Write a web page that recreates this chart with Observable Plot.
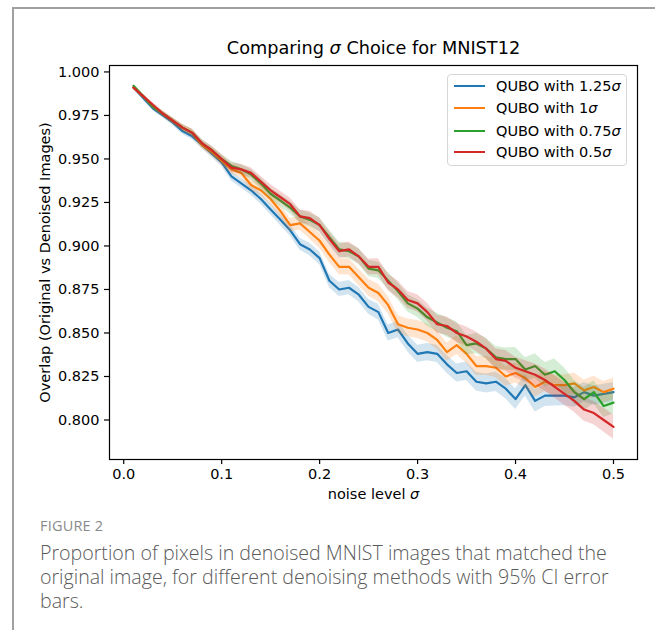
<!DOCTYPE html>
<html><head><meta charset="utf-8">
<script src="https://cdn.jsdelivr.net/npm/d3@7"></script>
<script src="https://cdn.jsdelivr.net/npm/@observablehq/plot@0.6"></script>
<style>
body{margin:0;background:#fff;width:655px;height:630px;overflow:hidden;position:relative;font-family:"DejaVu Sans",sans-serif;}
#frame{position:absolute;left:12px;top:7px;width:700px;height:700px;border-left:2px solid #a0a0a0;border-top:2px solid #a0a0a0;}
#chart{position:absolute;left:0;top:0;}
#legend{position:absolute;left:447px;top:74px;width:180px;height:92px;border:1px solid #d6d6d6;border-radius:4px;background:rgba(255,255,255,0.85);box-sizing:border-box;}
.sw{position:absolute;left:6px;width:31px;height:0;border-top:2.2px solid;}
.lt{position:absolute;left:48px;font-size:14.5px;line-height:16px;color:#000;white-space:nowrap;}
#cap{position:absolute;left:40px;top:516px;width:600px;font-family:"Open Sans",sans-serif;}
#fig{font-size:14.5px;color:#8a8a8a;letter-spacing:0.2px;line-height:20px;}
#txt{font-size:19.6px;font-weight:300;color:#5a5a5a;line-height:24px;margin-top:5px;}
</style></head>
<body>
<div id="frame"></div>
<div id="chart"></div>
<div id="legend"></div>
<div id="cap"><div id="fig">FIGURE 2</div><div id="txt">Proportion of pixels in denoised MNIST images that matched the original image, for different denoising methods with 95% CI error bars.</div></div>
<script>
const noise = [0.01,0.02,0.03,0.04,0.05,0.06,0.07,0.08,0.09,0.10,
0.11,0.12,0.13,0.14,0.15,0.16,0.17,0.18,0.19,0.20,
0.21,0.22,0.23,0.24,0.25,0.26,0.27,0.28,0.29,0.30,
0.31,0.32,0.33,0.34,0.35,0.36,0.37,0.38,0.39,0.40,
0.41,0.42,0.43,0.44,0.45,0.46,0.47,0.48,0.49,0.50];

const seriesNames = ["QUBO with 1.25σ","QUBO with 1σ","QUBO with 0.75σ","QUBO with 0.5σ"];
const seriesColors = ["#1f77b4","#ff7f0e","#2ca02c","#d62728"];

const q125 = [0.991,0.985,0.979,0.975,0.971,0.966,0.963,0.958,0.953,0.948,
0.940,0.936,0.932,0.927,0.921,0.915,0.909,0.901,0.898,0.893,
0.880,0.875,0.876,0.872,0.865,0.862,0.850,0.852,0.844,0.838,
0.839,0.838,0.832,0.827,0.828,0.822,0.821,0.822,0.818,0.812,
0.820,0.811,0.814,0.814,0.814,0.813,0.816,0.814,0.815,0.816];
const q100 = [0.991,0.986,0.980,0.976,0.972,0.968,0.965,0.958,0.954,0.949,
0.944,0.942,0.935,0.932,0.927,0.920,0.912,0.913,0.908,0.903,
0.895,0.888,0.888,0.882,0.876,0.873,0.866,0.855,0.853,0.852,
0.850,0.846,0.839,0.843,0.838,0.831,0.831,0.830,0.825,0.827,
0.824,0.819,0.822,0.820,0.820,0.821,0.817,0.819,0.816,0.818];
const q075 = [0.992,0.986,0.980,0.976,0.972,0.968,0.965,0.959,0.955,0.950,
0.946,0.944,0.941,0.936,0.930,0.926,0.922,0.917,0.915,0.912,
0.905,0.898,0.897,0.894,0.887,0.886,0.880,0.874,0.867,0.864,
0.859,0.856,0.853,0.851,0.843,0.844,0.841,0.836,0.835,0.835,
0.829,0.831,0.826,0.828,0.823,0.816,0.812,0.816,0.808,0.810];
const q050 = [0.991,0.986,0.981,0.976,0.972,0.968,0.965,0.959,0.955,0.950,
0.945,0.944,0.942,0.937,0.932,0.928,0.924,0.917,0.916,0.912,
0.904,0.897,0.898,0.894,0.888,0.888,0.879,0.875,0.869,0.867,
0.862,0.855,0.854,0.850,0.848,0.845,0.841,0.835,0.834,0.830,
0.828,0.826,0.823,0.819,0.815,0.811,0.806,0.804,0.800,0.796];

// 95% CI half-widths
const ci125 = [0.0010,0.0012,0.0013,0.0015,0.0016,0.0018,0.0019,0.0021,0.0022,0.0024,
0.0026,0.0027,0.0029,0.0030,0.0031,0.0032,0.0033,0.0035,0.0036,0.0037,
0.0038,0.0040,0.0041,0.0042,0.0043,0.0045,0.0046,0.0047,0.0048,0.0049,
0.0050,0.0050,0.0051,0.0052,0.0053,0.0054,0.0055,0.0056,0.0058,0.0060,
0.0062,0.0064,0.0062,0.0060,0.0058,0.0057,0.0056,0.0055,0.0055,0.0055];
const ci100 = [0.0010,0.0012,0.0014,0.0015,0.0017,0.0018,0.0020,0.0021,0.0023,0.0025,
0.0027,0.0028,0.0030,0.0032,0.0033,0.0035,0.0037,0.0039,0.0041,0.0043,
0.0045,0.0046,0.0047,0.0048,0.0049,0.0050,0.0050,0.0051,0.0051,0.0052,
0.0052,0.0053,0.0053,0.0054,0.0054,0.0055,0.0055,0.0056,0.0056,0.0057,
0.0057,0.0058,0.0058,0.0059,0.0059,0.0060,0.0060,0.0061,0.0061,0.0062];
const ci075 = [0.0010,0.0012,0.0014,0.0015,0.0017,0.0018,0.0020,0.0022,0.0023,0.0025,
0.0027,0.0028,0.0030,0.0031,0.0033,0.0034,0.0036,0.0037,0.0039,0.0040,
0.0042,0.0043,0.0044,0.0045,0.0046,0.0047,0.0048,0.0049,0.0050,0.0051,
0.0052,0.0053,0.0054,0.0055,0.0056,0.0058,0.0060,0.0062,0.0064,0.0066,
0.0068,0.0070,0.0070,0.0070,0.0069,0.0068,0.0067,0.0066,0.0066,0.0066];
const ci050 = [0.0010,0.0012,0.0014,0.0015,0.0017,0.0018,0.0020,0.0022,0.0023,0.0025,
0.0027,0.0028,0.0030,0.0031,0.0033,0.0034,0.0036,0.0037,0.0039,0.0040,
0.0041,0.0042,0.0043,0.0044,0.0045,0.0046,0.0047,0.0048,0.0049,0.0050,
0.0051,0.0052,0.0053,0.0054,0.0055,0.0056,0.0057,0.0058,0.0059,0.0060,
0.0061,0.0062,0.0063,0.0064,0.0065,0.0066,0.0067,0.0068,0.0069,0.0070];

const xTicks = [0.0,0.1,0.2,0.3,0.4,0.5];
const yTicks = [0.800,0.825,0.850,0.875,0.900,0.925,0.950,0.975,1.000];

const titleText = "Comparing σ Choice for MNIST12";
const xLabel = "noise level σ";
const yLabel = "Overlap (Original vs Denoised Images)";

const values = [q125,q100,q075,q050];
const cis = [ci125,ci100,ci075,ci050];

const marks = [];
values.forEach((vals, k) => {
  const rows = noise.map((x, i) => ({x, y: vals[i], lo: vals[i] - cis[k][i], hi: vals[i] + cis[k][i]}));
  marks.push(Plot.areaY(rows, {x: "x", y1: "lo", y2: "hi", fill: seriesColors[k], fillOpacity: 0.2}));
  marks.push(Plot.lineY(rows, {x: "x", y: "y", stroke: seriesColors[k], strokeWidth: 2.2}));
});

const chart = Plot.plot({
  width: 655,
  height: 520,
  marginLeft: 109,
  marginRight: 18,
  marginTop: 65,
  marginBottom: 61,
  style: {fontFamily: "DejaVu Sans", fontSize: "14.5px", color: "#000", background: "transparent"},
  x: {domain: [-0.0145, 0.5245]},
  y: {domain: [0.7773, 1.0037]},
  marks: [
    ...marks,
    Plot.frame({stroke: "#000", strokeWidth: 1.2}),
    Plot.axisX({ticks: xTicks, tickFormat: d3.format(".1f"), tickSize: 5, tickPadding: 4, label: null, strokeWidth: 1.2}),
    Plot.axisY({ticks: yTicks, tickFormat: d3.format(".3f"), tickSize: 5, tickPadding: 5, label: null, strokeWidth: 1.2}),
    Plot.text([titleText], {text: d => d, frameAnchor: "top", lineAnchor: "middle", dy: -17, fontSize: 17.7}),
    Plot.text([xLabel], {text: d => d, frameAnchor: "bottom", lineAnchor: "middle", dy: 35, fontSize: 14.5}),
    Plot.text([yLabel], {text: d => d, frameAnchor: "left", textAnchor: "middle", rotate: -90, dx: -64, fontSize: 14.5})
  ]
});
document.getElementById("chart").appendChild(chart);

// italic sigma, as in the math text of the original
const NS = "http://www.w3.org/2000/svg";
chart.querySelectorAll("text").forEach(t => {
  if (t.children.length === 0 && t.textContent.includes("σ")) {
    const parts = t.textContent.split("σ");
    t.textContent = "";
    parts.forEach((p, i) => {
      if (p) t.appendChild(document.createTextNode(p));
      if (i < parts.length - 1) {
        const s = document.createElementNS(NS, "tspan");
        s.setAttribute("font-style", "italic");
        s.textContent = "σ";
        t.appendChild(s);
      }
    });
  }
});

// legend
const leg = document.getElementById("legend");
const rowTops = [11, 33, 56, 77];
seriesNames.forEach((name, k) => {
  const sw = document.createElement("div");
  sw.className = "sw";
  sw.style.top = (rowTops[k] - 1) + "px";
  sw.style.borderTopColor = seriesColors[k];
  leg.appendChild(sw);
  const lt = document.createElement("div");
  lt.className = "lt";
  lt.style.top = (rowTops[k] - 8) + "px";
  lt.innerHTML = name.replace("σ", "<i>σ</i>");
  leg.appendChild(lt);
});
</script>
</body></html>
